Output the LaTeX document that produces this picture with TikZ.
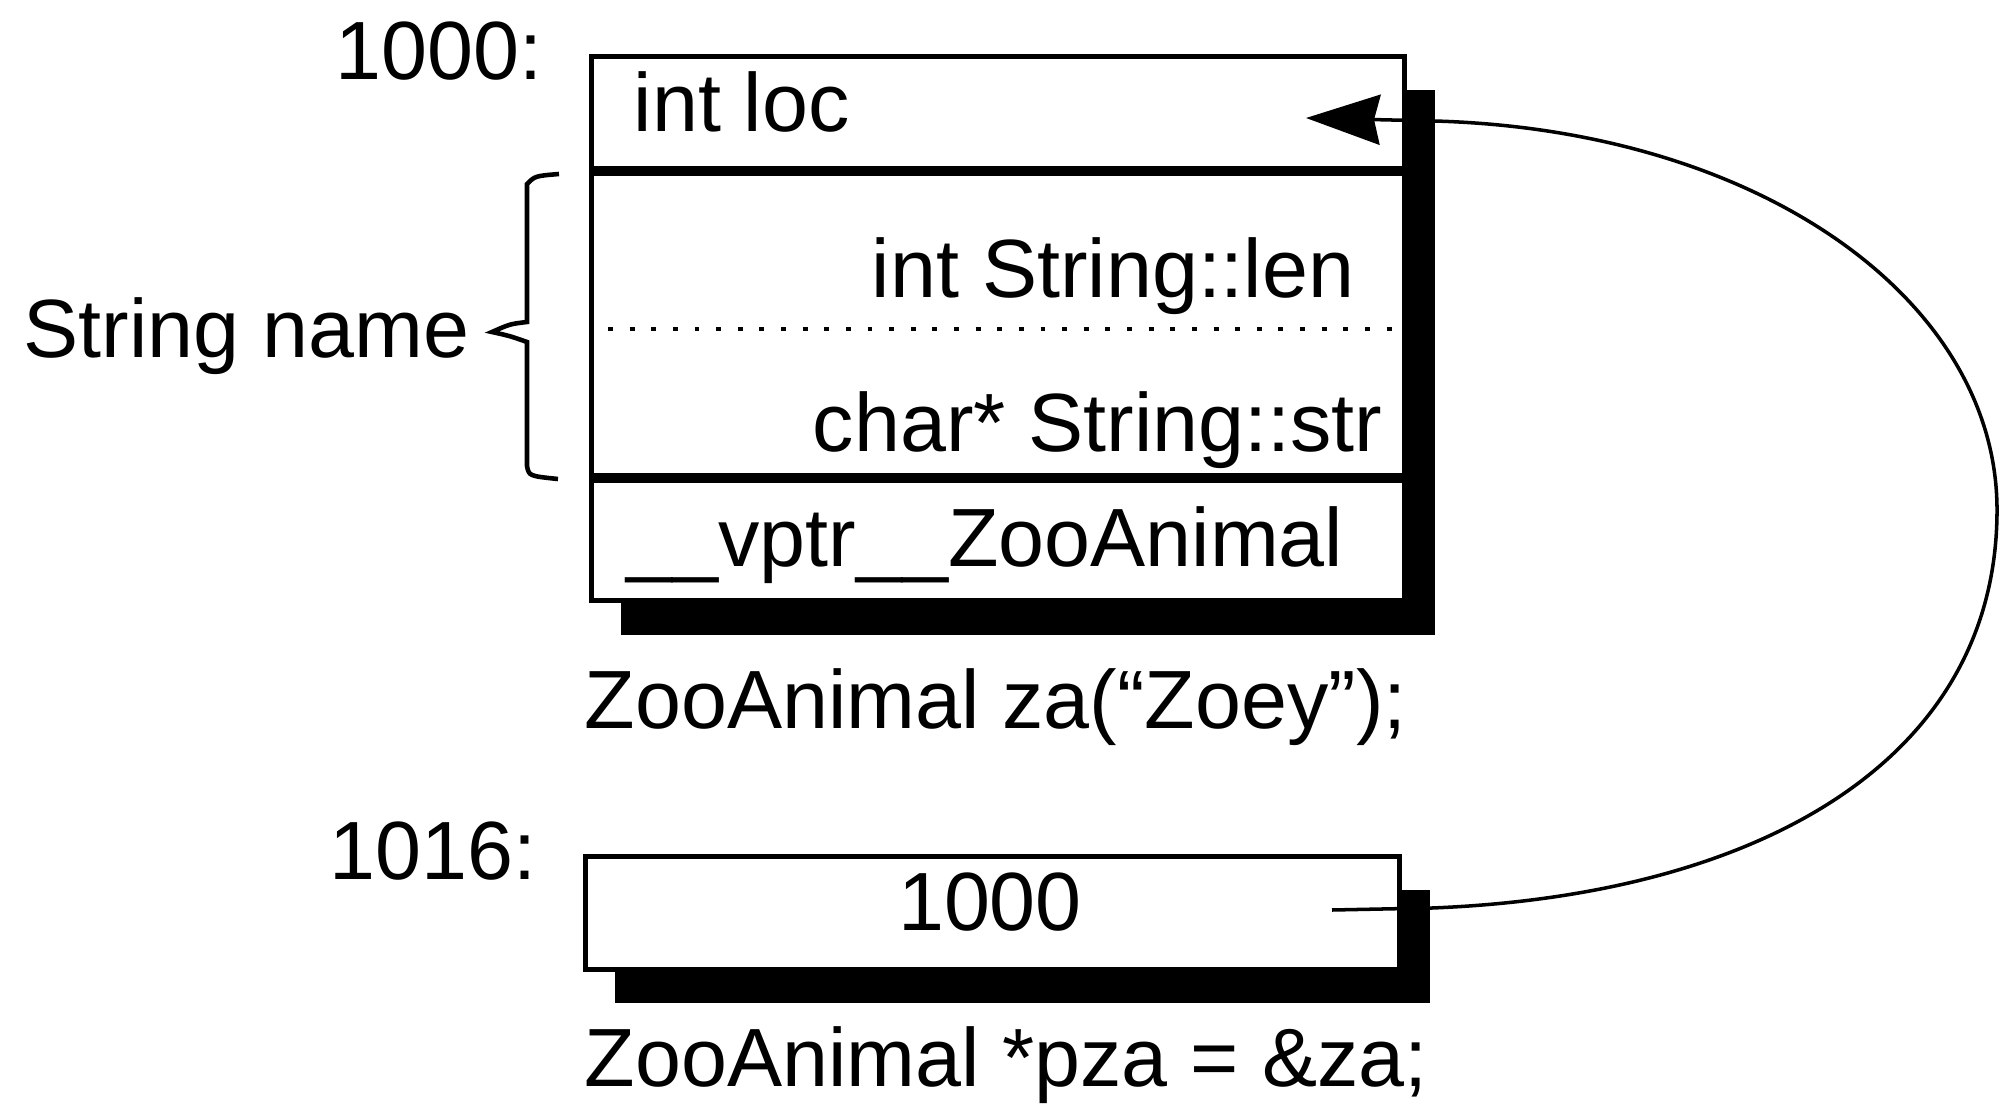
\documentclass[tikz,border=0pt]{standalone}
\usepackage{fontspec}
\setmainfont{Liberation Sans}
\usetikzlibrary{arrows.meta,shadows}
\begin{document}
\begin{tikzpicture}[x=0.01cm, y=-0.01cm,
    txt/.style={inner sep=0pt, anchor=base, font=\fontsize{23.5}{28}\selectfont},
    cellbox/.style={draw, line width=1.3pt, fill=white, inner sep=0pt,
      drop shadow={shadow xshift=0.3cm, shadow yshift=-0.34cm, fill=black, opacity=1}},
    sep/.style={line width=3pt},
    ptrline/.style={line width=1pt, -{Stealth[length=0.74cm, width=0.5cm, inset=0.06cm]}}]
  \useasboundingbox (0,0) rectangle (2004,1116);

  \node[cellbox, anchor=north west, minimum width=8.13cm, minimum height=5.44cm] (za) at (589,54) {};
  \node[cellbox, anchor=north west, minimum width=8.14cm, minimum height=1.13cm] (pza) at (583,854) {};

  \foreach \y in {171,478} {
    \draw[sep] (za.west |- 0,\y) -- (za.east |- 0,\y);
  }
  \draw[line width=1.4pt, dash pattern=on 1.4pt off 4.75pt] (608,329) -- (1394,329);

  \node[txt, anchor=base east] (addr1) at (543,80) {1000:};
  \node[txt, anchor=base west] (loc) at (633,132) {int loc};
  \node[txt, anchor=base east] (len) at (1355,298) {int String::len};
  \node[txt, anchor=base east] (str) at (1383,452) {char* String::str};
  \node[txt, anchor=base west] (vptr) at (626,566) {\_\_vptr\_\_ZooAnimal};
  \node[txt, anchor=base west] (decl1) at (584,728) {ZooAnimal za(“Zoey”);};
  \node[txt, anchor=base east] (addr2) at (537,879) {1016:};
  \node[txt] (val) at (990,930) {1000};
  \node[txt, anchor=base west] (decl2) at (584,1086) {ZooAnimal *pza = \&za;};
  \node[txt, anchor=base east] (strname) at (470,358) {String name};

  \draw[line width=1.3pt] (559,174) .. controls (535,176) .. (527,184) -- (527,322)
    .. controls (510,324) .. (492,332) .. controls (510,336) .. (527,342)
    -- (527,466) .. controls (529,476) .. (558,479);

  \coordinate (ptrsrc) at (1332,910);
  \coordinate (loctip) at (1306,118);
  \draw[ptrline] (ptrsrc) -- (1432,908) .. controls (1760,895) and (1997,760) .. (1997,510)
    .. controls (1997,300) and (1760,130) .. (1434,121) -- (loctip);
\end{tikzpicture}
\end{document}
